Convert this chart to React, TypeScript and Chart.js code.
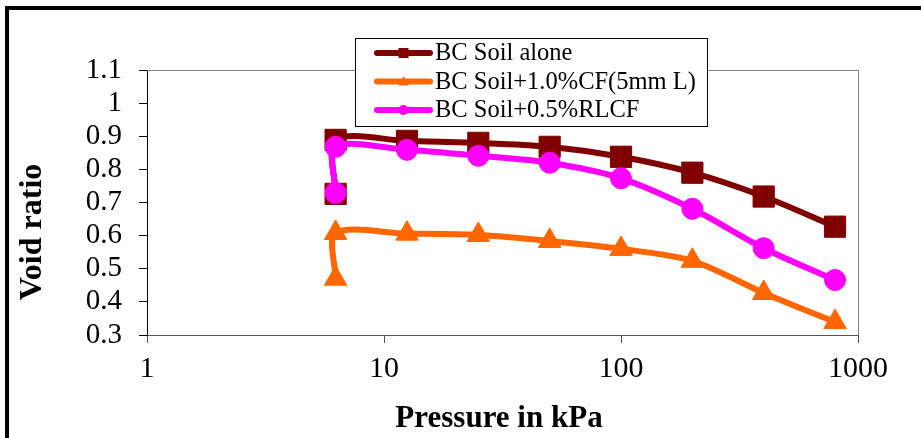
import React, { useEffect, useRef } from "react";
import { Chart, registerables } from "chart.js";

Chart.register(...registerables);

// ---- Data ----
const pressures = [6.25, 6.25, 12.5, 25, 50, 100, 200, 400, 800];
const bcSoilAlone = [0.726, 0.889, 0.886, 0.88, 0.868, 0.838, 0.79, 0.718, 0.627];
const bcSoilCF = [0.47, 0.608, 0.606, 0.602, 0.584, 0.56, 0.524, 0.427, 0.339];
const bcSoilRLCF = [0.729, 0.868, 0.859, 0.841, 0.82, 0.773, 0.681, 0.562, 0.466];
const seriesLabels = ["BC Soil alone", "BC Soil+1.0%CF(5mm L)", "BC Soil+0.5%RLCF"];
const xTickValues = [1, 10, 100, 1000];
const yMin = 0.3;
const yMax = 1.1;
const yStep = 0.1;
const xTitle = "Pressure in kPa";
const yTitle = "Void ratio";

const COLORS = ["#800000", "#FF6600", "#FF00FF"];
const SHAPES = ["rect", "triangle", "circle"];
const FONT = '"Liberation Serif", "Times New Roman", serif';

function toPoints(ys: number[]) {
  return ys.map((y, i) => ({ x: pressures[i], y }));
}

function drawMarker(ctx: CanvasRenderingContext2D, shape: string, x: number, y: number, r: number) {
  ctx.beginPath();
  if (shape === "rect") {
    ctx.rect(x - r, y - r, 2 * r, 2 * r);
  } else if (shape === "triangle") {
    ctx.moveTo(x, y - r * 1.1);
    ctx.lineTo(x + r, y + r * 0.8);
    ctx.lineTo(x - r, y + r * 0.8);
    ctx.closePath();
  } else {
    ctx.arc(x, y, r, 0, Math.PI * 2);
  }
  ctx.fill();
}

const overlayPlugin = {
  id: "overlayPlugin",
  beforeDatasetsDraw(chart: any) {
    const { ctx, chartArea: a } = chart;
    ctx.save();
    ctx.strokeStyle = "#7f7f7f";
    ctx.lineWidth = 1;
    ctx.beginPath();
    ctx.moveTo(a.left, Math.round(a.top) + 0.5);
    ctx.lineTo(Math.round(a.right) + 0.5, Math.round(a.top) + 0.5);
    ctx.lineTo(Math.round(a.right) + 0.5, a.bottom);
    ctx.stroke();
    ctx.restore();
  },
  afterDraw(chart: any) {
    const { ctx } = chart;
    ctx.save();
    // Legend box
    const bx = 355.5, by = 38.5, bw = 352, bh = 88;
    ctx.fillStyle = "#ffffff";
    ctx.fillRect(bx, by, bw, bh);
    ctx.strokeStyle = "#000000";
    ctx.lineWidth = 1;
    ctx.strokeRect(bx, by, bw, bh);
    const rows = [53, 81.5, 110];
    chart.data.datasets.forEach((ds: any, i: number) => {
      const y = rows[i];
      ctx.strokeStyle = COLORS[i];
      ctx.lineWidth = 6;
      ctx.lineCap = "round";
      ctx.beginPath();
      ctx.moveTo(377, y);
      ctx.lineTo(430, y);
      ctx.stroke();
      ctx.fillStyle = COLORS[i];
      drawMarker(ctx, SHAPES[i], 403.5, y, 5);
      ctx.fillStyle = "#000000";
      ctx.font = `24.5px ${FONT}`;
      ctx.textAlign = "left";
      ctx.textBaseline = "middle";
      ctx.fillText(ds.label, 435, y + 1);
    });
    // Axis titles
    ctx.fillStyle = "#000000";
    ctx.font = `bold 31px ${FONT}`;
    ctx.textAlign = "center";
    ctx.textBaseline = "middle";
    ctx.fillText(xTitle, 499, 419);
    ctx.font = `bold 32px ${FONT}`;
    ctx.translate(33, 232);
    ctx.rotate(-Math.PI / 2);
    ctx.fillText(yTitle, 0, 0);
    ctx.restore();
  },
};

export default function App() {
  const canvasRef = useRef<HTMLCanvasElement | null>(null);

  useEffect(() => {
    if (!canvasRef.current) return;
    const series = [bcSoilAlone, bcSoilCF, bcSoilRLCF];
    const radii = [15, 13, 10.5];
    const chart = new Chart(canvasRef.current, {
      type: "line",
      data: {
        datasets: series.map((ys, i) => ({
          label: seriesLabels[i],
          data: toPoints(ys),
          borderColor: COLORS[i],
          backgroundColor: COLORS[i],
          borderWidth: 6,
          borderCapStyle: "round",
          borderJoinStyle: "round",
          pointStyle: SHAPES[i],
          pointRadius: radii[i],
          pointBorderWidth: 1,
          pointBorderColor: COLORS[i],
          pointBackgroundColor: COLORS[i],
          tension: 0.3,
          order: 2 - i,
        })) as any,
      },
      options: {
        responsive: false,
        animation: false,
        devicePixelRatio: 1,
        layout: { padding: { left: 0, right: 63, top: 70, bottom: 0 } },
        plugins: { legend: { display: false }, tooltip: { enabled: false } },
        font: { family: FONT },
        scales: {
          x: {
            type: "logarithmic",
            min: 1,
            max: 1000,
            afterBuildTicks: (scale: any) => {
              scale.ticks = xTickValues.map((v) => ({ value: v }));
            },
            afterFit: (scale: any) => {
              scale.height = 103;
            },
            ticks: {
              callback: (v: any) => String(v),
              font: { family: FONT, size: 30, lineHeight: 1 },
              color: "#000000",
              padding: 11,
              maxRotation: 0,
              autoSkip: false,
            },
            grid: {
              drawOnChartArea: false,
              drawTicks: true,
              tickLength: 8,
              color: "#555555",
            },
            border: { display: true, color: "#555555", width: 1 },
          },
          y: {
            type: "linear",
            min: yMin,
            max: yMax,
            afterFit: (scale: any) => {
              scale.width = 147;
            },
            ticks: {
              stepSize: yStep,
              autoSkip: false,
              callback: (v: any) => String(parseFloat(Number(v).toFixed(1))),
              font: { family: FONT, size: 29, lineHeight: 1 },
              color: "#000000",
              padding: 17,
            },
            grid: {
              drawOnChartArea: false,
              drawTicks: true,
              tickLength: 8,
              color: "#000000",
            },
            border: { display: true, color: "#000000", width: 1 },
          },
        },
      } as any,
      plugins: [overlayPlugin],
    });
    return () => chart.destroy();
  }, []);

  return (
    <div
      style={{
        position: "fixed",
        left: 0,
        top: 0,
        width: 921,
        height: 438,
        overflow: "hidden",
        background: "#ffffff",
      }}
    >
      <div
        style={{
          position: "absolute",
          left: 5,
          top: 6,
          width: 1000,
          height: 1000,
          borderLeft: "4px solid #000",
          borderTop: "4px solid #000",
          boxSizing: "border-box",
        }}
      />
      <canvas
        ref={canvasRef}
        width={921}
        height={438}
        style={{ position: "absolute", left: 0, top: 0, width: 921, height: 438 }}
      />
    </div>
  );
}
